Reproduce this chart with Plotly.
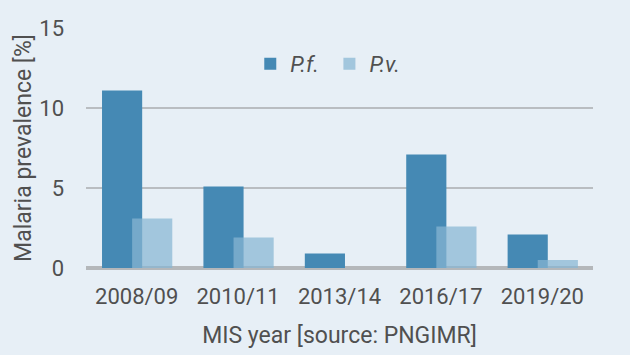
import plotly.graph_objects as go

categories = ["2008/09", "2010/11", "2013/14", "2016/17", "2019/20"]
pf_values = [11.1, 5.1, 0.9, 7.1, 2.1]
pv_values = [3.1, 1.9, 0.0, 2.6, 0.5]
y_ticks = [0, 5, 10, 15]

bg = "#e7eff6"
font_family = "Roboto, Arial, sans-serif"
txt = "#505050"

fig = go.Figure()
fig.add_trace(go.Bar(
    x=categories, y=pf_values, name="<i>P.f.</i> ",
    marker=dict(color="#4589b4", line=dict(width=0)),
    width=0.396, offset=-0.342,
))
fig.add_trace(go.Bar(
    x=categories, y=pv_values, name="<i>P.v.</i>",
    marker=dict(color="rgba(136,182,210,0.72)", line=dict(width=0)),
    width=0.396, offset=-0.045,
))

fig.update_layout(
    width=630, height=355,
    barmode="overlay",
    paper_bgcolor=bg, plot_bgcolor=bg,
    margin=dict(l=86, r=37, t=28, b=85),
    font=dict(family=font_family, color=txt),
    showlegend=True,
    legend=dict(
        orientation="h", x=0.324, y=0.85, xanchor="left", yanchor="middle",
        bgcolor="rgba(0,0,0,0)", font=dict(size=22, color=txt),
        itemwidth=30,
    ),
    xaxis=dict(
        type="category", showgrid=False, showline=False, zeroline=False,
        tickfont=dict(size=22, color=txt), ticks="",
        ticklabelstandoff=13,
        title=dict(text="MIS year [source: PNGIMR]", font=dict(size=23, color=txt), standoff=18),
    ),
    yaxis=dict(
        range=[0, 15], tickvals=y_ticks, showgrid=True, gridcolor="#b9bdc1", gridwidth=2,
        zeroline=True, zerolinecolor="#b4b7ba", zerolinewidth=4,
        showline=False, tickfont=dict(size=22, color=txt), ticks="",
        ticklabelstandoff=21,
        title=dict(text="Malaria prevalence [%]", font=dict(size=23, color=txt), standoff=1),
    ),
)

fig.write_html("out.html", config={"displayModeBar": False})
with open("out.html", "r", encoding="utf-8") as f:
    html = f.read()
html = html.replace("<head>", "<head><style>html,body{margin:0;padding:0;overflow:hidden;}</style>", 1)
with open("out.html", "w", encoding="utf-8") as f:
    f.write(html)
